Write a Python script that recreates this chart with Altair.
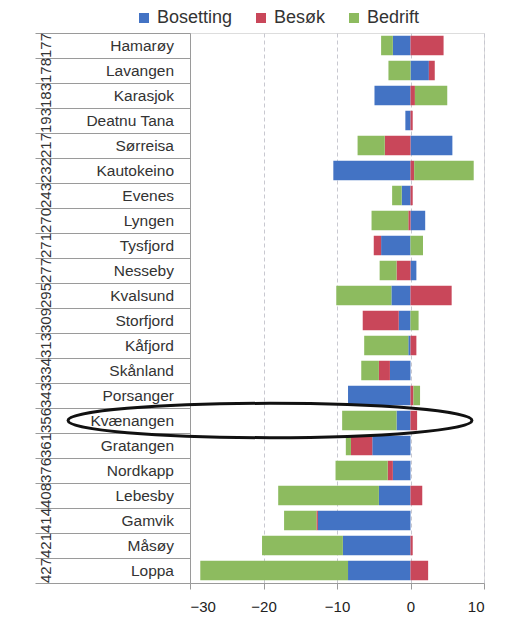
import altair as alt
import pandas as pd

categories = ["Hamarøy", "Lavangen", "Karasjok", "Deatnu Tana", "Sørreisa", "Kautokeino",
              "Evenes", "Lyngen", "Tysfjord", "Nesseby", "Kvalsund", "Storfjord", "Kåfjord",
              "Skånland", "Porsanger", "Kvænangen", "Gratangen", "Nordkapp", "Lebesby",
              "Gamvik", "Måsøy", "Loppa"]
ranks = [177, 178, 183, 193, 217, 232, 243, 270, 271, 277, 295, 309, 313, 334, 343, 356,
         361, 376, 408, 414, 421, 427]
bosetting = [-2.4, 2.5, -4.9, -0.7, 5.7, -10.5, -1.2, 2.0, -4.0, 0.8, -2.6, -1.6, -0.3,
             -2.8, -8.5, -1.9, -5.2, -2.4, -4.3, -12.6, -9.2, -8.5]
besok = [4.5, 0.8, 0.6, 0.3, -3.5, 0.5, 0.3, -0.3, -1.0, -1.9, 5.6, -4.9, 0.8,
         -1.5, 0.4, 0.9, -2.9, -0.7, 1.6, -0.2, 0.3, 2.4]
bedrift = [-1.6, -3.0, 4.4, 0.0, -3.7, 8.1, -1.3, -5.0, 1.7, -2.3, -7.5, 1.1, -6.0,
           -2.4, 0.9, -7.4, -0.7, -7.1, -13.7, -4.4, -11.0, -20.1]
series = ["Bosetting", "Besøk", "Bedrift"]
colors = ["#4373C4", "#C9475A", "#8DBB5F"]
x_ticks = [-30, -20, -10, 0, 10]

rows = []
for i, c in enumerate(categories):
    for j, (s, vals) in enumerate(zip(series, [bosetting, besok, bedrift])):
        rows.append({"kommune": c, "serie": s, "verdi": vals[i], "rekkefolge": j})
df = pd.DataFrame(rows)
lab = pd.DataFrame({"kommune": categories, "rang": [str(r) for r in ranks]})
ring = pd.DataFrame({"kommune": ["Kvænangen"]})

FONT = "Liberation Sans"

y_axis = alt.Axis(title=None, labels=False, ticks=True, tickBand="extent", tickSize=155,
                  tickColor="#9a9a9a", domainColor="#9a9a9a", grid=False)
y_scale = alt.Scale(paddingInner=0, paddingOuter=0)

bars = alt.Chart(df).mark_bar(size=19.5).encode(
    y=alt.Y("kommune:N", sort=categories, scale=y_scale, axis=y_axis),
    x=alt.X("verdi:Q", stack="zero",
            scale=alt.Scale(domain=[-30, 10], nice=False),
            axis=alt.Axis(title=None, values=x_ticks, grid=True, gridDash=[4, 3],
                          gridColor="#c8c8d0", labelFontSize=15, labelColor="#222222",
                          tickSize=6, tickColor="#9a9a9a", domainColor="#9a9a9a",
                          labelPadding=10)),
    color=alt.Color("serie:N", scale=alt.Scale(domain=series, range=colors),
                    legend=alt.Legend(title=None, orient="none", legendX=-55, legendY=-24,
                                      direction="horizontal", symbolType="square",
                                      symbolSize=100, labelFontSize=18, labelColor="#333333",
                                      columnPadding=19, labelOffset=4, symbolStrokeWidth=0)),
    order=alt.Order("rekkefolge:Q"),
)

names = alt.Chart(lab).mark_text(align="right", baseline="middle", fontSize=15.5,
                                 color="#333333", font=FONT).encode(
    y=alt.Y("kommune:N", sort=categories, scale=y_scale, axis=y_axis),
    x=alt.value(-16),
    text="kommune:N",
)

rank_txt = alt.Chart(lab).mark_text(align="center", baseline="middle", fontSize=15,
                                    angle=270, color="#333333", font=FONT).encode(
    y=alt.Y("kommune:N", sort=categories, scale=y_scale, axis=y_axis),
    x=alt.value(-144),
    text="rang:N",
)

ellipse = alt.Chart(ring).mark_point(
    shape="M -1,0 A 1,0.085 0 1,0 1,0 A 1,0.085 0 1,0 -1,0 Z",
    size=404 * 404, filled=False, stroke="#111111", strokeWidth=3, opacity=1,
).encode(
    y=alt.Y("kommune:N", sort=categories, scale=y_scale, axis=y_axis),
    x=alt.value(80),
)

chart = alt.layer(bars, names, rank_txt, ellipse).properties(
    width=294, height=550,
    autosize=alt.AutoSizeParams(type="none"),
    padding={"left": 182, "top": 25, "right": 30, "bottom": 30},
).configure_view(stroke=None).configure(font=FONT)

chart.save("out.html", embed_options={"renderer": "svg", "actions": False})
